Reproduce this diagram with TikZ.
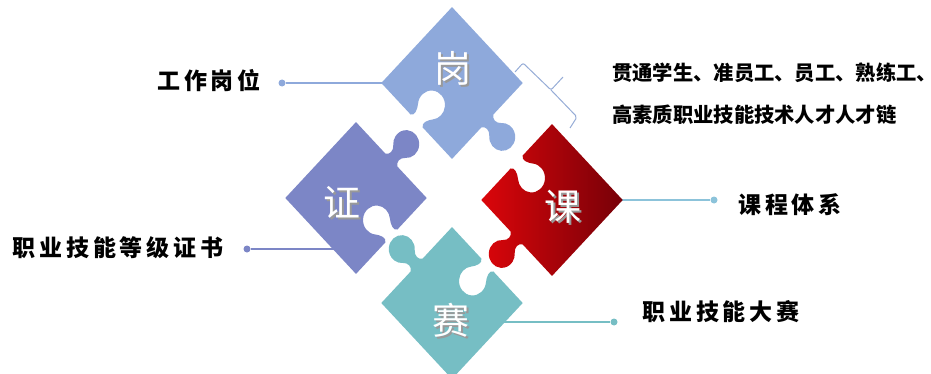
\documentclass[tikz,border=0pt]{standalone}
\usepackage{fontspec}
\usepackage{tikz}
\usetikzlibrary{calc}
\newfontfamily\cjk{Noto Sans CJK SC}
\newfontfamily\cjkwide{Noto Sans CJK SC}[LetterSpace=17]

\definecolor{gangblue}{RGB}{142, 169, 219}
\definecolor{zhengpurple}{RGB}{124, 134, 198}
\definecolor{saiteal}{RGB}{118, 190, 196}
\definecolor{kered}{RGB}{222, 6, 10}
\definecolor{kedark}{RGB}{118, 0, 8}
\definecolor{keline}{RGB}{140, 195, 218}
\definecolor{bracegray}{RGB}{150, 172, 214}

% one puzzle piece: knob on the lower side, hole on the left side
\newcommand{\piecepath}{(-1,-1) -- (-0.17,-1) .. controls (-0.09,-1.04) and (-0.09,-1.157) .. (-0.167,-1.221)
  arc[start angle=130, end angle=410, radius=0.26] .. controls (0.09,-1.157) and (0.09,-1.04) .. (0.17,-1)
  -- (1,-1) -- (1,1) -- (-1,1) -- (-1,0.17) .. controls (-0.96,0.09) and (-0.831,0.143) .. (-0.754,0.207)
  arc[start angle=130, end angle=-130, radius=0.27] .. controls (-0.831,-0.143) and (-0.96,-0.09) .. (-1,-0.17) -- cycle}

% white letter with a grey shadow behind it
\newcommand{\shadowed}[1]{\makebox[0pt][l]{\hspace{2pt}\raisebox{-2pt}{\textcolor{black!40}{#1}}}#1}

\tikzset{
  link/.style={line width=1.1pt, draw=#1},
  dot/.style={circle, inner sep=0pt, minimum size=7pt, fill=#1},
  tag/.style={font=\cjkwide\bfseries\fontsize{23}{23}\selectfont, text=black},
  glyph/.style={font=\cjk\fontsize{37}{37}\selectfont, text=white}
}

\begin{document}
\begin{tikzpicture}[x=1pt, y=1pt]
  \useasboundingbox (0,0) rectangle (931,373);

  % Piece centres
  \coordinate (gang) at (452,290);
  \coordinate (zheng) at (356,175);
  \coordinate (ke) at (552,173);
  \coordinate (sai) at (452,70);

  % Line ends on the pieces
  \coordinate (gang-w) at ($(gang)+(-66,0)$);
  \coordinate (zheng-sw) at ($(zheng)+(-12,-51)$);
  \coordinate (ke-e) at ($(ke)+(66,0)$);
  \coordinate (sai-se) at ($(sai)+(30,-19)$);

  % Dots
  \node[dot=gangblue] (dgang) at (282,290) {};
  \node[dot=zhengpurple] (dzheng) at (247,124) {};
  \node[dot=keline] (dke) at (714,173) {};
  \node[dot=saiteal] (dsai) at (614,51) {};

  % Links
  \draw[link=gangblue] (dgang) -- (gang-w);
  \draw[link=zhengpurple] (dzheng) -- (zheng-sw);
  \draw[link=keline] (ke-e) -- (dke);
  \draw[link=saiteal] (sai-se) -- (dsai);

  % Bracket next to the top piece
  \draw[bracegray, line width=1pt, rounded corners=2pt]
    (515,301) -- (523,310) -- (551,283) -- (563,296)
    (551,283) -- (577,256) -- (570,245);

  % === Pieces ===
  \fill[gangblue, shift={(gang)}, xscale=50, yscale=53.7, rotate=45] \piecepath;
  \fill[zhengpurple, shift={(zheng)}, xscale=50, yscale=53.7, rotate=135] \piecepath;
  \fill[saiteal, shift={(sai)}, xscale=50, yscale=53.7, rotate=-135] \piecepath;
  \begin{scope}
    \clip[shift={(ke)}, xscale=50, yscale=53.7, rotate=-45] \piecepath;
    \shade[left color=kered, middle color=kered!95!black, right color=kedark]
      ($(ke)+(-75,-115)$) rectangle ($(ke)+(72,115)$);
  \end{scope}

  % Letters on the pieces
  \node[glyph] (tgang) at (453,304) {\shadowed{岗}};
  \node[glyph] (tzheng) at (342,170) {\shadowed{证}};
  \node[glyph] (tke) at (563,165) {\shadowed{课}};
  \node[glyph] (tsai) at (451,52) {\shadowed{赛}};

  % Labels
  \node[tag] (lgang) at (209,292) {工作岗位};
  \node[tag] (lzheng) at (118,125) {职业技能等级证书};
  \node[tag] (lke) at (790,168) {课程体系};
  \node[tag] (lsai) at (721,61) {职业技能大赛};
  \node[font=\cjk\bfseries\fontsize{20.3}{42}\selectfont, align=left, anchor=west, inner sep=0pt] (lchain) at (612,279)
    {贯通学生、准员工、员工、熟练工、\\高素质职业技能技术人才人才链};
\end{tikzpicture}
\end{document}
